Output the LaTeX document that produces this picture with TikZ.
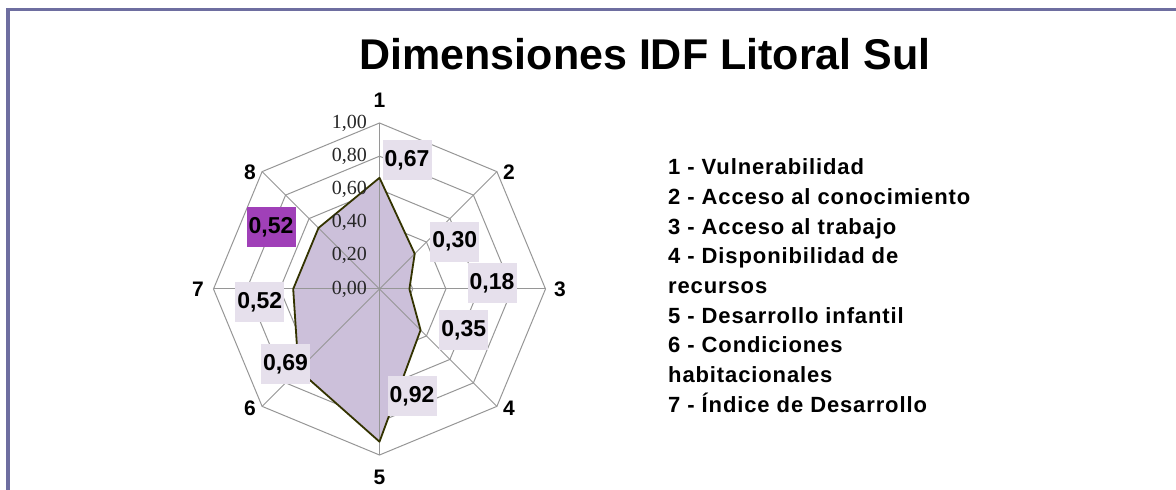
\documentclass[tikz,border=0pt]{standalone}
\usepackage{fontspec}
\setmainfont{Liberation Sans}
\newfontfamily\tickfont{Liberation Serif}
\newfontfamily\legendfont[LetterSpace=4]{Liberation Sans}
\usepackage{tikz}
\usetikzlibrary{positioning, calc}
\definecolor{framec}{RGB}{110,110,160}
\definecolor{areafill}{RGB}{204,192,218}
\definecolor{arealine}{RGB}{51,51,0}
\definecolor{boxfill}{RGB}{230,224,236}
\definecolor{boxhigh}{RGB}{160,64,184}
\definecolor{gridc}{RGB}{150,150,150}
\tikzset{
  gridline/.style={draw=gridc, line width=1pt},
  valbox/.style={fill=boxfill, minimum width=49pt, minimum height=40pt, inner sep=0pt,
    font=\fontsize{23}{27}\selectfont\bfseries},
  axlabel/.style={inner sep=0pt, font=\fontsize{21}{25}\selectfont\bfseries},
  ticklabel/.style={anchor=east, inner sep=0pt, text=black!85, font=\fontsize{20}{23}\selectfont\tickfont}
}

\begin{document}
\begin{tikzpicture}[x=1pt, y=1pt]
  \useasboundingbox (0,0) rectangle (1176,490);
  \draw[framec, line width=3.5pt] (8,0) -- (8,480.5) -- (1176,480.5);

  \node (title) at (645,436) {\fontsize{43}{50}\selectfont\bfseries Dimensiones IDF Litoral Sul};

  \begin{scope}[shift={(379.5,201)}]
    \draw[gridline] (90:33.2) -- (45:33.2) -- (0:33.2) -- (-45:33.2) -- (-90:33.2) -- (-135:33.2) -- (180:33.2) -- (135:33.2) -- cycle;
    \draw[gridline] (90:66.4) -- (45:66.4) -- (0:66.4) -- (-45:66.4) -- (-90:66.4) -- (-135:66.4) -- (180:66.4) -- (135:66.4) -- cycle;
    \draw[gridline] (90:99.6) -- (45:99.6) -- (0:99.6) -- (-45:99.6) -- (-90:99.6) -- (-135:99.6) -- (180:99.6) -- (135:99.6) -- cycle;
    \draw[gridline] (90:132.8) -- (45:132.8) -- (0:132.8) -- (-45:132.8) -- (-90:132.8) -- (-135:132.8) -- (180:132.8) -- (135:132.8) -- cycle;
    \draw[gridline] (90:166) -- (45:166) -- (0:166) -- (-45:166) -- (-90:166) -- (-135:166) -- (180:166) -- (135:166) -- cycle;

    \coordinate (p1) at (90:111.2);
    \coordinate (p2) at (45:49.8);
    \coordinate (p3) at (0:29.9);
    \coordinate (p4) at (-45:58.1);
    \coordinate (p5) at (-90:152.7);
    \coordinate (p6) at (-135:114.5);
    \coordinate (p7) at (180:86.3);
    \coordinate (p8) at (135:86.3);
    \fill[areafill] (p1) -- (p2) -- (p3) -- (p4) -- (p5) -- (p6) -- (p7) -- (p8) -- cycle;

    \draw[gridline] (90:166) -- (-90:166);
    \draw[gridline] (45:166) -- (-135:166);
    \draw[gridline] (0:166) -- (180:166);
    \draw[gridline] (-45:166) -- (135:166);

    \draw[arealine, line width=1.8pt, line join=round] (p1) -- (p2) -- (p3) -- (p4) -- (p5) -- (p6) -- (p7) -- (p8) -- cycle;

    \node[ticklabel] (t0) at (-12.5,0) {0,00};
    \node[ticklabel] (t1) at (-12.5,33.2) {0,20};
    \node[ticklabel] (t2) at (-12.5,66.4) {0,40};
    \node[ticklabel] (t3) at (-12.5,99.6) {0,60};
    \node[ticklabel] (t4) at (-12.5,132.8) {0,80};
    \node[ticklabel] (t5) at (-12.5,166) {1,00};

    \node[axlabel] (a1) at (0,189) {1};
    \node[axlabel] (a2) at (129.5,117) {2};
    \node[axlabel] (a3) at (180.5,0) {3};
    \node[axlabel] (a4) at (129.5,-119) {4};
    \node[axlabel] (a5) at (0,-188) {5};
    \node[axlabel] (a6) at (-129.5,-119) {6};
    \node[axlabel] (a7) at (-181.5,0) {7};
    \node[axlabel] (a8) at (-129.5,117) {8};

    \node[valbox] (v1) at (27.5,129) {0,67};
    \node[valbox] (v2) at (75.2,47.3) {0,30};
    \node[valbox] (v3) at (112.5,5.7) {0,18};
    \node[valbox] (v4) at (84.3,-41) {0,35};
    \node[valbox] (v5) at (32.5,-107) {0,92};
    \node[valbox] (v6) at (-94,-75.3) {0,69};
    \node[valbox] (v7) at (-119.8,-13) {0,52};
    \node[valbox, fill=boxhigh] (v8) at (-108.5,61.7) {0,52};
  \end{scope}

  \node[anchor=north west, inner sep=0pt, align=left,
    font=\fontsize{22}{29.7}\selectfont\legendfont\bfseries] (legend) at (668,331.5)
    {1 - Vulnerabilidad\\
     2 - Acceso al conocimiento\\
     3 - Acceso al trabajo\\
     4 - Disponibilidad de\\
     recursos\\
     5 - Desarrollo infantil\\
     6 - Condiciones\\
     habitacionales\\
     7 - Índice de Desarrollo};
\end{tikzpicture}
\end{document}
